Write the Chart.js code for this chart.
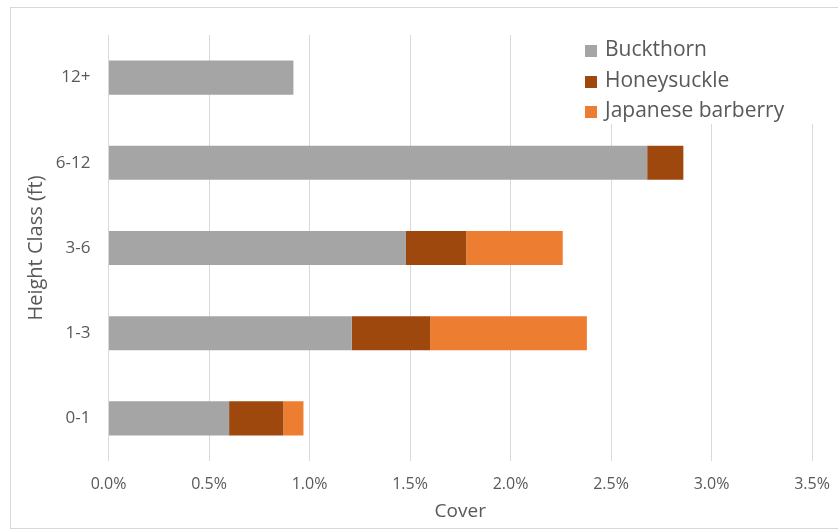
<!DOCTYPE html>
<html lang="en">
<head>
    <meta charset="UTF-8">
    <title>Cover by height class</title>
    <script src="https://cdn.jsdelivr.net/npm/chart.js"></script>
    <style>
        html, body {
            margin: 0;
            padding: 0;
            width: 838px;
            height: 531px;
            overflow: hidden;
            background: #ffffff;
            font-family: "Open Sans", sans-serif;
        }

        .frame {
            position: absolute;
            left: 10px;
            top: 7px;
            width: 840px;
            height: 520px;
            border: 1px solid #d9d9d9;
        }

        .wrap {
            position: absolute;
            left: 0;
            top: 0;
            width: 838px;
            height: 531px;
        }

        .legend {
            position: absolute;
            left: 577px;
            top: 35px;
            width: 242px;
            height: 89px;
            background: #ffffff;
            color: #595959;
            font-size: 21px;
        }

        .legend .item {
            position: absolute;
            left: 8px;
            height: 24px;
            line-height: 24px;
            white-space: nowrap;
        }

        .legend .box {
            display: inline-block;
            width: 12px;
            height: 12px;
            margin-right: 8px;
            vertical-align: -1px;
        }
    </style>
</head>
<body>
<div class="frame"></div>
<div class="wrap">
    <canvas id="chart" width="838" height="531"></canvas>
</div>
<div class="legend" id="legend"></div>

<script>
    // height classes, top to bottom
    const heightClasses = ['12+', '6-12', '3-6', '1-3', '0-1'];
    // cover (%) per species
    const buckthorn = [0.92, 2.68, 1.48, 1.21, 0.60];
    const honeysuckle = [0, 0.18, 0.30, 0.39, 0.27];
    const barberry = [0, 0, 0.48, 0.78, 0.10];
    const seriesNames = ['Buckthorn', 'Honeysuckle', 'Japanese barberry'];
    const seriesColors = ['#a5a5a5', '#9e480e', '#ed7d31'];
    const xTicks = [0, 0.5, 1.0, 1.5, 2.0, 2.5, 3.0, 3.5];

    const textColor = '#595959';
    const seriesData = [buckthorn, honeysuckle, barberry];

    const chart = new Chart(document.getElementById('chart'), {
        type: 'bar',
        data: {
            labels: heightClasses,
            datasets: seriesNames.map((name, i) => ({
                label: name,
                data: seriesData[i],
                backgroundColor: seriesColors[i],
                borderWidth: 0,
                barPercentage: 0.4,
                categoryPercentage: 1
            }))
        },
        options: {
            indexAxis: 'y',
            responsive: false,
            animation: false,
            layout: {
                padding: { left: 10, top: 35, right: 26, bottom: 5 }
            },
            plugins: {
                legend: { display: false },
                tooltip: { enabled: false }
            },
            scales: {
                x: {
                    stacked: true,
                    min: xTicks[0],
                    max: xTicks[xTicks.length - 1],
                    afterBuildTicks: (scale) => {
                        scale.ticks = xTicks.map(v => ({ value: v }));
                    },
                    afterFit: (scale) => {
                        scale.height = 65;
                        scale.paddingRight = 0;
                        scale.paddingLeft = 0;
                    },
                    grid: { color: '#d9d9d9', drawTicks: false },
                    border: { display: false },
                    ticks: {
                        padding: 14,
                        color: textColor,
                        font: { family: 'Open Sans', size: 16 },
                        callback: (v) => Number(v).toFixed(1) + '%'
                    },
                    title: {
                        display: true,
                        text: 'Cover',
                        color: textColor,
                        font: { family: 'Open Sans', size: 19 },
                        padding: { top: 6, bottom: 3 }
                    }
                },
                y: {
                    stacked: true,
                    afterFit: (scale) => { scale.width = 98.5; },
                    grid: { display: false, drawTicks: false },
                    border: { display: false },
                    ticks: {
                        padding: 18,
                        color: textColor,
                        font: { family: 'Open Sans', size: 17 }
                    },
                    title: {
                        display: true,
                        text: 'Height Class (ft)',
                        color: textColor,
                        font: { family: 'Open Sans', size: 20 },
                        padding: { top: 14, bottom: 0 }
                    }
                }
            }
        }
    });

    // legend built from the series names and colours
    const legend = document.getElementById('legend');
    seriesNames.forEach((name, i) => {
        const item = document.createElement('div');
        item.className = 'item';
        item.style.top = (1 + i * 30.5) + 'px';
        const box = document.createElement('span');
        box.className = 'box';
        box.style.background = seriesColors[i];
        item.appendChild(box);
        item.appendChild(document.createTextNode(name));
        legend.appendChild(item);
    });
</script>
</body>
</html>
